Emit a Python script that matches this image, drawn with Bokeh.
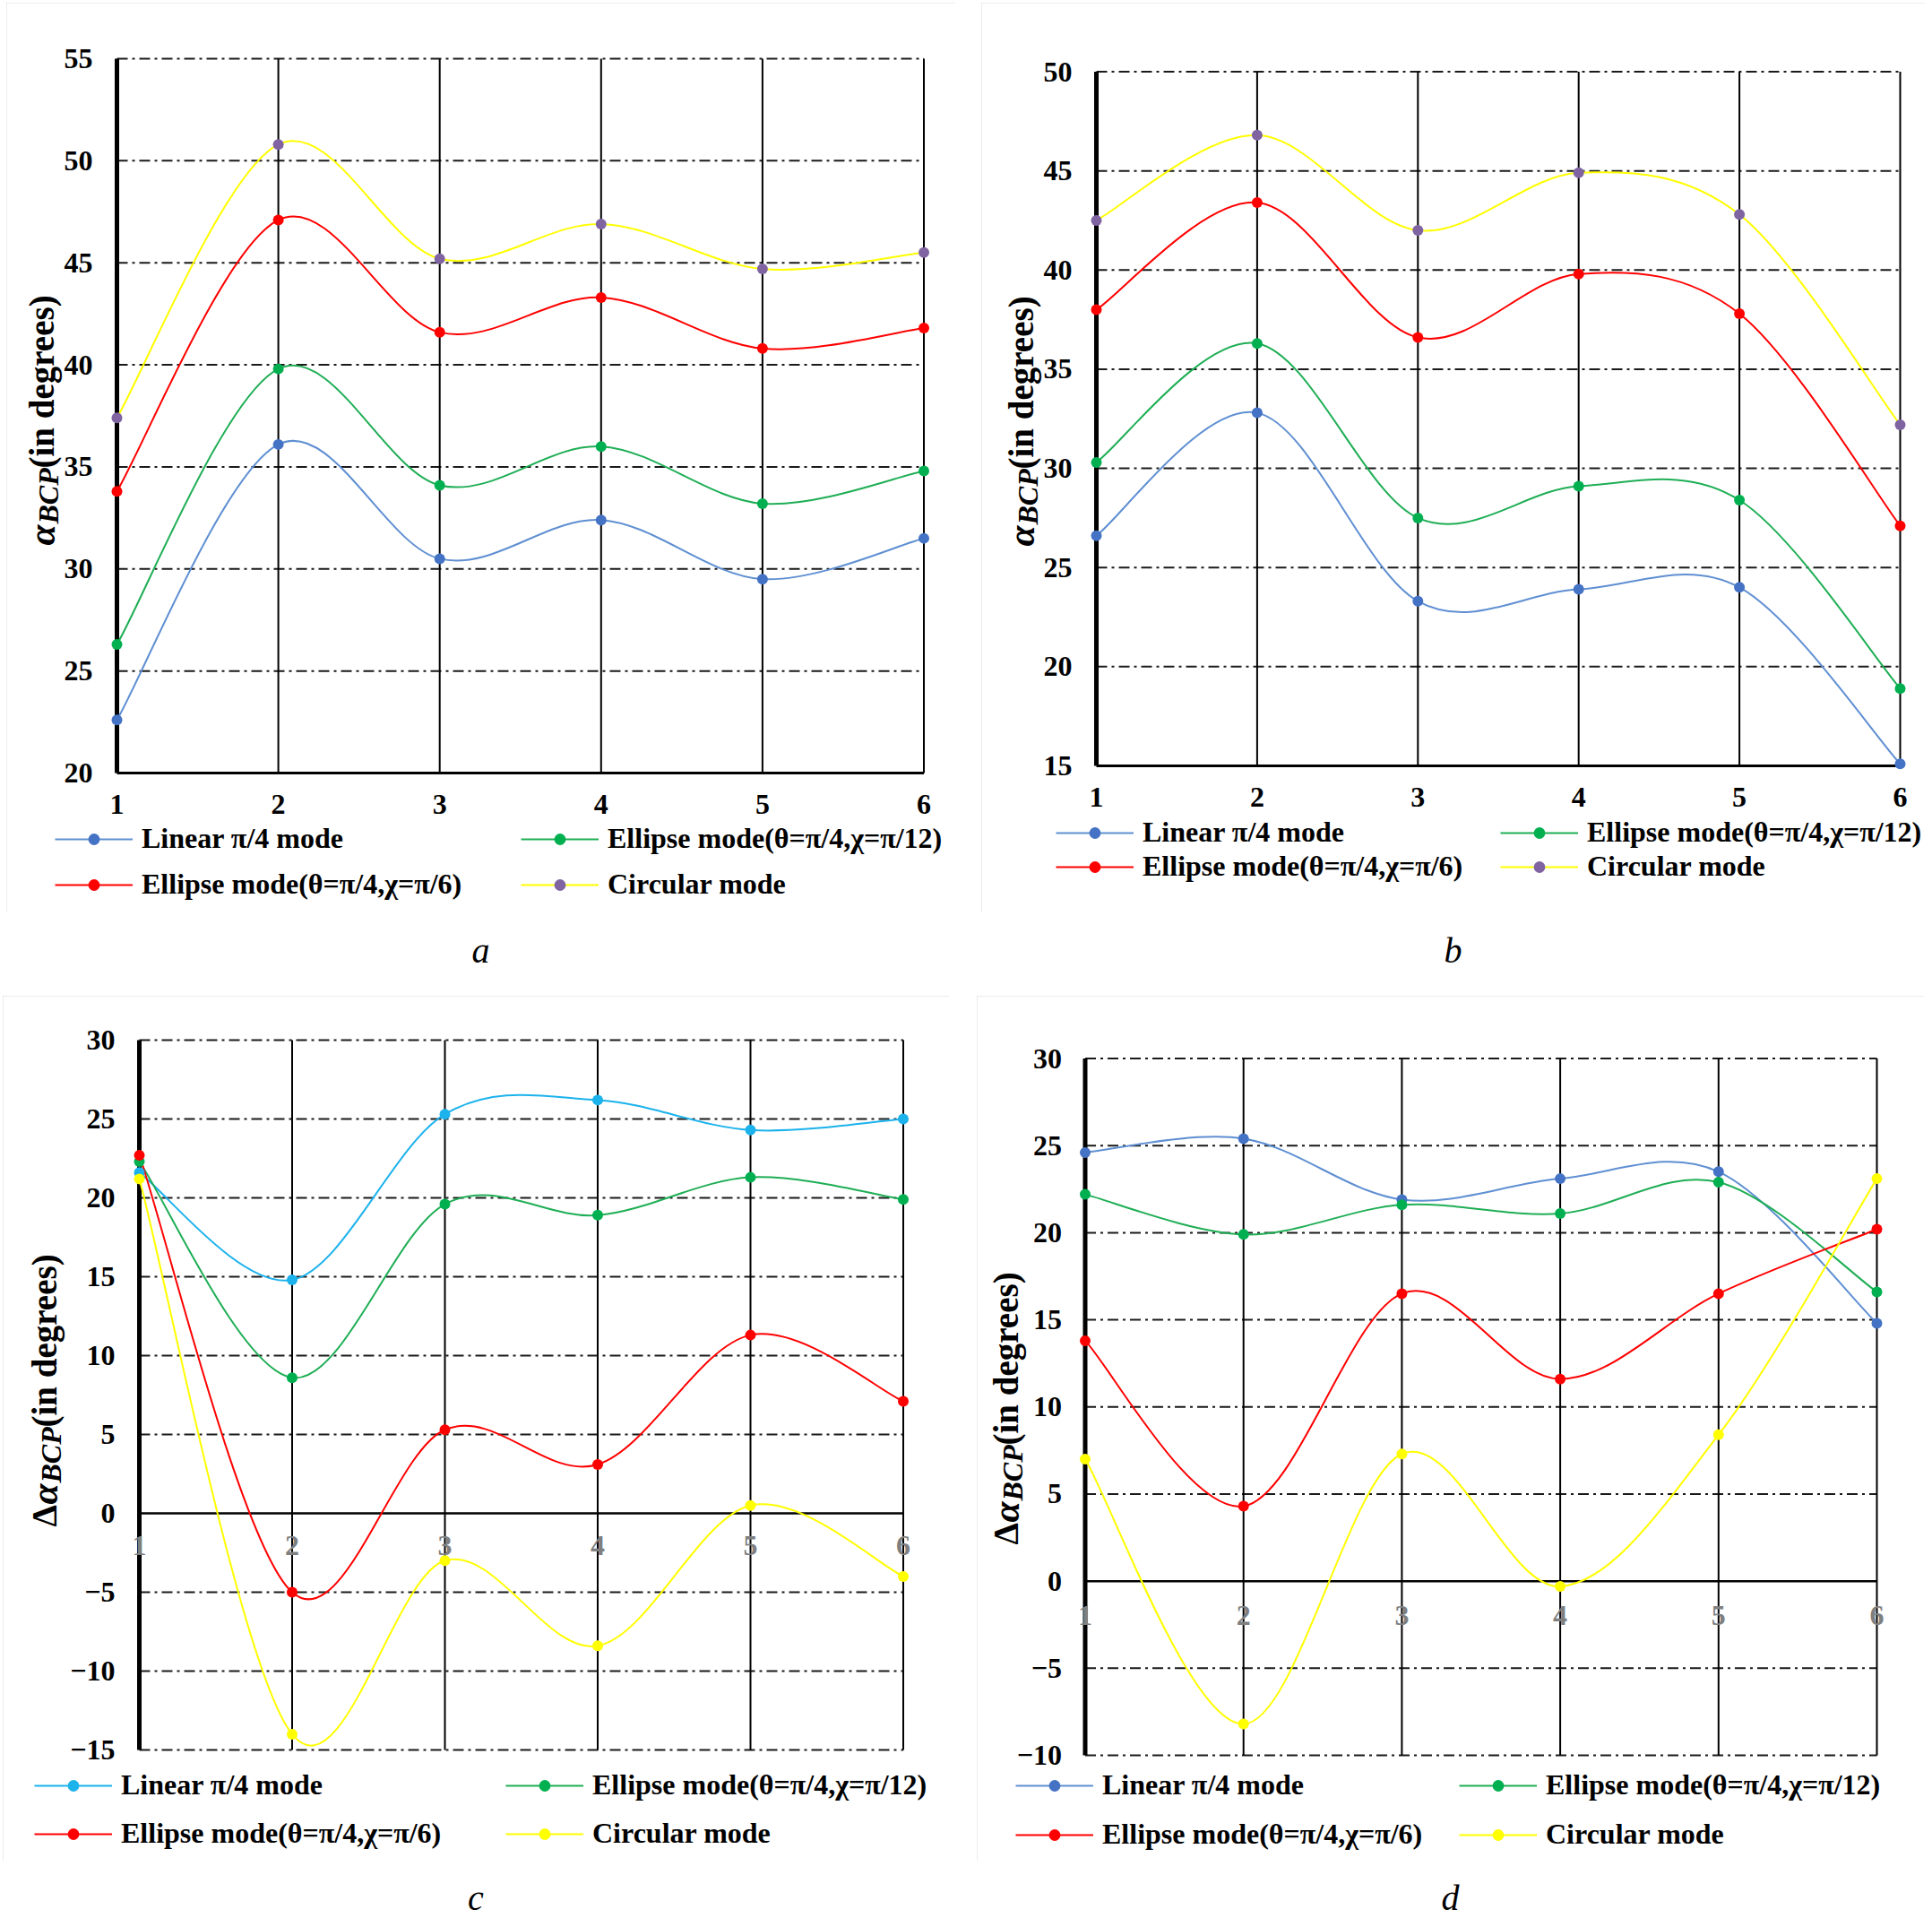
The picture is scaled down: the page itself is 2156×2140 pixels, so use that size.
import numpy as np
from bokeh.plotting import figure
from bokeh.models import Range1d, FixedTicker, Legend, LegendItem, Label, Div, Spacer
from bokeh.layouts import column, row
from bokeh.embed import file_html
from bokeh.resources import INLINE

# ---------------- data ----------------
xs = [1, 2, 3, 4, 5, 6]
x_ticks = [1, 2, 3, 4, 5, 6]

series_names = ["Linear π/4 mode", "Ellipse mode(θ=π/4,χ=π/12)",
                "Ellipse mode(θ=π/4,χ=π/6)", "Circular mode"]

a_linear = [22.6, 36.1, 30.5, 32.4, 29.5, 31.5]
a_e12 = [26.3, 39.8, 34.1, 36.0, 33.2, 34.8]
a_e6 = [33.8, 47.1, 41.6, 43.3, 40.8, 41.8]
a_circ = [37.4, 50.8, 45.2, 46.9, 44.7, 45.5]
a_yticks = [20, 25, 30, 35, 40, 45, 50, 55]

b_linear = [26.6, 32.8, 23.3, 23.9, 24.0, 15.1]
b_e12 = [30.3, 36.3, 27.5, 29.1, 28.4, 18.9]
b_e6 = [38.0, 43.4, 36.6, 39.8, 37.8, 27.1]
b_circ = [42.5, 46.8, 42.0, 44.9, 42.8, 32.2]
b_yticks = [15, 20, 25, 30, 35, 40, 45, 50]

c_linear = [21.6, 14.8, 25.3, 26.2, 24.3, 25.0]
c_e12 = [22.3, 8.6, 19.6, 18.9, 21.3, 19.9]
c_e6 = [22.7, -5.0, 5.3, 3.1, 11.3, 7.1]
c_circ = [21.2, -14.0, -3.0, -8.4, 0.5, -4.0]
c_yticks = [-15, -10, -5, 0, 5, 10, 15, 20, 25, 30]

d_linear = [24.6, 25.4, 21.9, 23.1, 23.5, 14.8]
d_e12 = [22.2, 19.9, 21.6, 21.1, 22.9, 16.6]
d_e6 = [13.8, 4.3, 16.5, 11.6, 16.5, 20.2]
d_circ = [7.0, -8.2, 7.3, -0.3, 8.4, 23.1]
d_yticks = [-10, -5, 0, 5, 10, 15, 20, 25, 30]

FONT = "Liberation Serif"


def smooth_ctrl(x, y):
    """Bezier control points (Catmull-Rom, Excel-like smoothing)."""
    x = np.asarray(x, float)
    y = np.asarray(y, float)
    n = len(x)
    xp = np.concatenate([[x[0]], x, [x[-1]]])
    yp = np.concatenate([[y[0]], y, [y[-1]]])
    cx0 = xp[1:n] + (xp[2:n + 1] - xp[0:n - 1]) / 6
    cy0 = yp[1:n] + (yp[2:n + 1] - yp[0:n - 1]) / 6
    cx1 = xp[2:n + 1] - (xp[3:n + 2] - xp[1:n]) / 6
    cy1 = yp[2:n + 1] - (yp[3:n + 2] - yp[1:n]) / 6
    return x[:-1], y[:-1], x[1:], y[1:], cx0, cy0, cx1, cy1


def make_panel(cfg):
    W, H, X1, X6, Yt, Yb = cfg["geom"]
    yt = cfg["yticks"]
    sx = (X6 - X1) / (x_ticks[-1] - x_ticks[0])
    sy = (Yb - Yt) / (yt[-1] - yt[0])
    p = figure(width=W, height=H, min_border=0,
               min_border_left=0, min_border_right=0, min_border_top=0, min_border_bottom=0,
               x_range=Range1d(x_ticks[0] - X1 / sx, x_ticks[-1] + (W - X6) / sx),
               y_range=Range1d(yt[0] - (H - Yb) / sy, yt[-1] + Yt / sy),
               output_backend="svg", toolbar_location=None,
               styles={"outline": "3px solid #d9d9d9", "outline-offset": "-3px"})
    p.title.visible = False
    p.outline_line_color = None
    p.grid.grid_line_color = None
    p.background_fill_color = "white"
    p.border_fill_color = "white"

    p.xaxis.ticker = FixedTicker(ticks=x_ticks)
    p.yaxis.ticker = FixedTicker(ticks=yt)
    for ax in (p.xaxis[0], p.yaxis[0]):
        ax.axis_line_color = None
        ax.major_tick_line_color = None
        ax.minor_tick_line_color = None
        ax.major_tick_in = 0
        ax.major_tick_out = 0
        ax.major_label_text_font = FONT
        ax.major_label_text_font_style = "bold"
        ax.major_label_text_font_size = "32px"
        ax.major_label_text_color = "black"
    solid_y = cfg["solid_y"]
    p.yaxis.fixed_location = x_ticks[0]
    p.xaxis.fixed_location = solid_y
    p.yaxis.major_label_standoff = cfg["ystandoff"]
    p.xaxis.major_label_standoff = cfg["xstandoff"]
    if solid_y != yt[0]:
        p.xaxis.major_label_text_color = "#7f7f7f"

    # grid lines
    hd = [t for t in yt if t != solid_y]
    p.segment(x0=[x_ticks[0]] * len(hd), x1=[x_ticks[-1]] * len(hd), y0=hd, y1=hd,
              line_color="#1a1a1a", line_width=2, line_dash="12 5 3 5")
    vx = x_ticks[1:]
    p.segment(x0=vx, x1=vx, y0=[yt[0]] * len(vx), y1=[yt[-1]] * len(vx),
              line_color="black", line_width=2)
    p.segment(x0=[x_ticks[0]], x1=[x_ticks[0]], y0=[yt[0]], y1=[yt[-1]],
              line_color="black", line_width=5)
    p.segment(x0=[x_ticks[0]], x1=[x_ticks[-1]], y0=[solid_y], y1=[solid_y],
              line_color="black", line_width=3 if solid_y == yt[0] else 2.5)

    rends = []
    for ys, lc in zip(cfg["series"], cfg["line_colors"]):
        x0, y0, x1, y1, cx0, cy0, cx1, cy1 = smooth_ctrl(xs, ys)
        bz = p.bezier(x0=x0, y0=y0, x1=x1, y1=y1, cx0=cx0, cy0=cy0, cx1=cx1, cy1=cy1,
                      line_color=lc, line_width=2)
        rends.append([bz])
    for k, (ys, dc) in enumerate(zip(cfg["series"], cfg["dot_colors"])):
        sc = p.scatter(xs, ys, size=12, fill_color=dc, line_color=None)
        rends[k].append(sc)

    order = [0, 2, 1, 3]
    items = [LegendItem(label=series_names[i], renderers=rends[i]) for i in order]
    lg = Legend(items=items, ncols=2, orientation="vertical",
                location=cfg["legend_loc"],
                label_text_font=FONT, label_text_font_style="bold",
                label_text_font_size="32px", label_text_color="black",
                glyph_width=87, glyph_height=32, label_height=37,
                label_width=cfg["label_width"], label_standoff=10,
                spacing=cfg["spacing"], padding=0, margin=0,
                border_line_color=None, background_fill_alpha=0)
    p.add_layout(lg)

    # y axis title:  [Δ] α_BCP (in degrees)
    pieces = []
    if cfg["delta"]:
        pieces.append(("Δ", "39px", "bold", 25, 0))
    pieces.append(("α", "42px", "bold italic", 24, 0))
    pieces.append(("BCP", "32px", "bold italic", 62, 7))
    pieces.append(("(in degrees)", "39px", "bold", 194, 0))
    ypos = cfg["title_y0"]
    for txt, fs, st, w, dx in pieces:
        p.add_layout(Label(x=cfg["title_x"] + dx, y=ypos, x_units="screen", y_units="screen",
                           text=txt, angle=np.pi / 2, text_align="left",
                           text_baseline="alphabetic", text_font=FONT,
                           text_font_size=fs, text_font_style=st, text_color="black"))
        ypos += w
    return p


blue, green, red, yellow, purple, sky = "#5f8fd2", "#1fae55", "#ff0000", "#ffff00", "#8064a2", "#1cb2ec"

cfg_a = dict(geom=(1059, 1015, 123, 1023.5, 62, 859), yticks=a_yticks, solid_y=a_yticks[0],
             series=[a_linear, a_e12, a_e6, a_circ],
             line_colors=[blue, green, red, yellow], dot_colors=["#4472c4", "#00b050", red, purple],
             ystandoff=27, xstandoff=24, legend_loc=(54, 13), label_width=409, spacing=14,
             title_x=39, title_y0=410, delta=False)
cfg_b = dict(geom=(1053, 1015, 128, 1025, 76.5, 851), yticks=b_yticks, solid_y=b_yticks[0],
             series=[b_linear, b_e12, b_e6, b_circ],
             line_colors=[blue, green, red, yellow], dot_colors=["#4472c4", "#00b050", red, purple],
             ystandoff=27, xstandoff=24, legend_loc=(83, 33), label_width=398, spacing=1,
             title_x=44, title_y0=409, delta=False)
cfg_c = dict(geom=(1056, 965, 152, 1004.5, 49, 841), yticks=c_yticks, solid_y=0,
             series=[c_linear, c_e12, c_e6, c_circ],
             line_colors=[sky, green, red, yellow], dot_colors=[sky, "#00b050", red, yellow],
             ystandoff=27, xstandoff=25, legend_loc=(35, 12), label_width=412, spacing=17,
             title_x=46, title_y0=373, delta=True)
cfg_d = dict(geom=(1057, 965, 120.5, 1004, 69.5, 847), yticks=d_yticks, solid_y=0,
             series=[d_linear, d_e12, d_e6, d_circ],
             line_colors=[blue, green, red, yellow], dot_colors=["#4472c4", "#00b050", red, yellow],
             ystandoff=26, xstandoff=28, legend_loc=(43, 11), label_width=380, spacing=18,
             title_x=32, title_y0=353, delta=True)

pa = make_panel(cfg_a)
pb = make_panel(cfg_b)
pc = make_panel(cfg_c)
pd = make_panel(cfg_d)


def caption(letter, w, h, pad):
    return Div(text=('<div style="width:%dpx;text-align:center;font-family:\'Liberation Serif\';'
                     'font-style:italic;font-size:40px;line-height:40px;padding-top:%dpx">%s</div>')
               % (w, pad, letter), width=w, height=h, margin=0)


layout = column(
    Spacer(width=10, height=3),
    row(Spacer(width=7, height=10), pa, Spacer(width=29, height=10), pb),
    row(Spacer(width=7, height=10), caption("a", 1059, 93, 23), Spacer(width=29, height=10),
        caption("b", 1053, 93, 23)),
    row(Spacer(width=3, height=10), pc, Spacer(width=31, height=10), pd),
    row(Spacer(width=3, height=10), caption("c", 1056, 62, 22), Spacer(width=31, height=10),
        caption("d", 1057, 62, 22)),
)

open("out.html", "w").write(file_html(layout, INLINE))
